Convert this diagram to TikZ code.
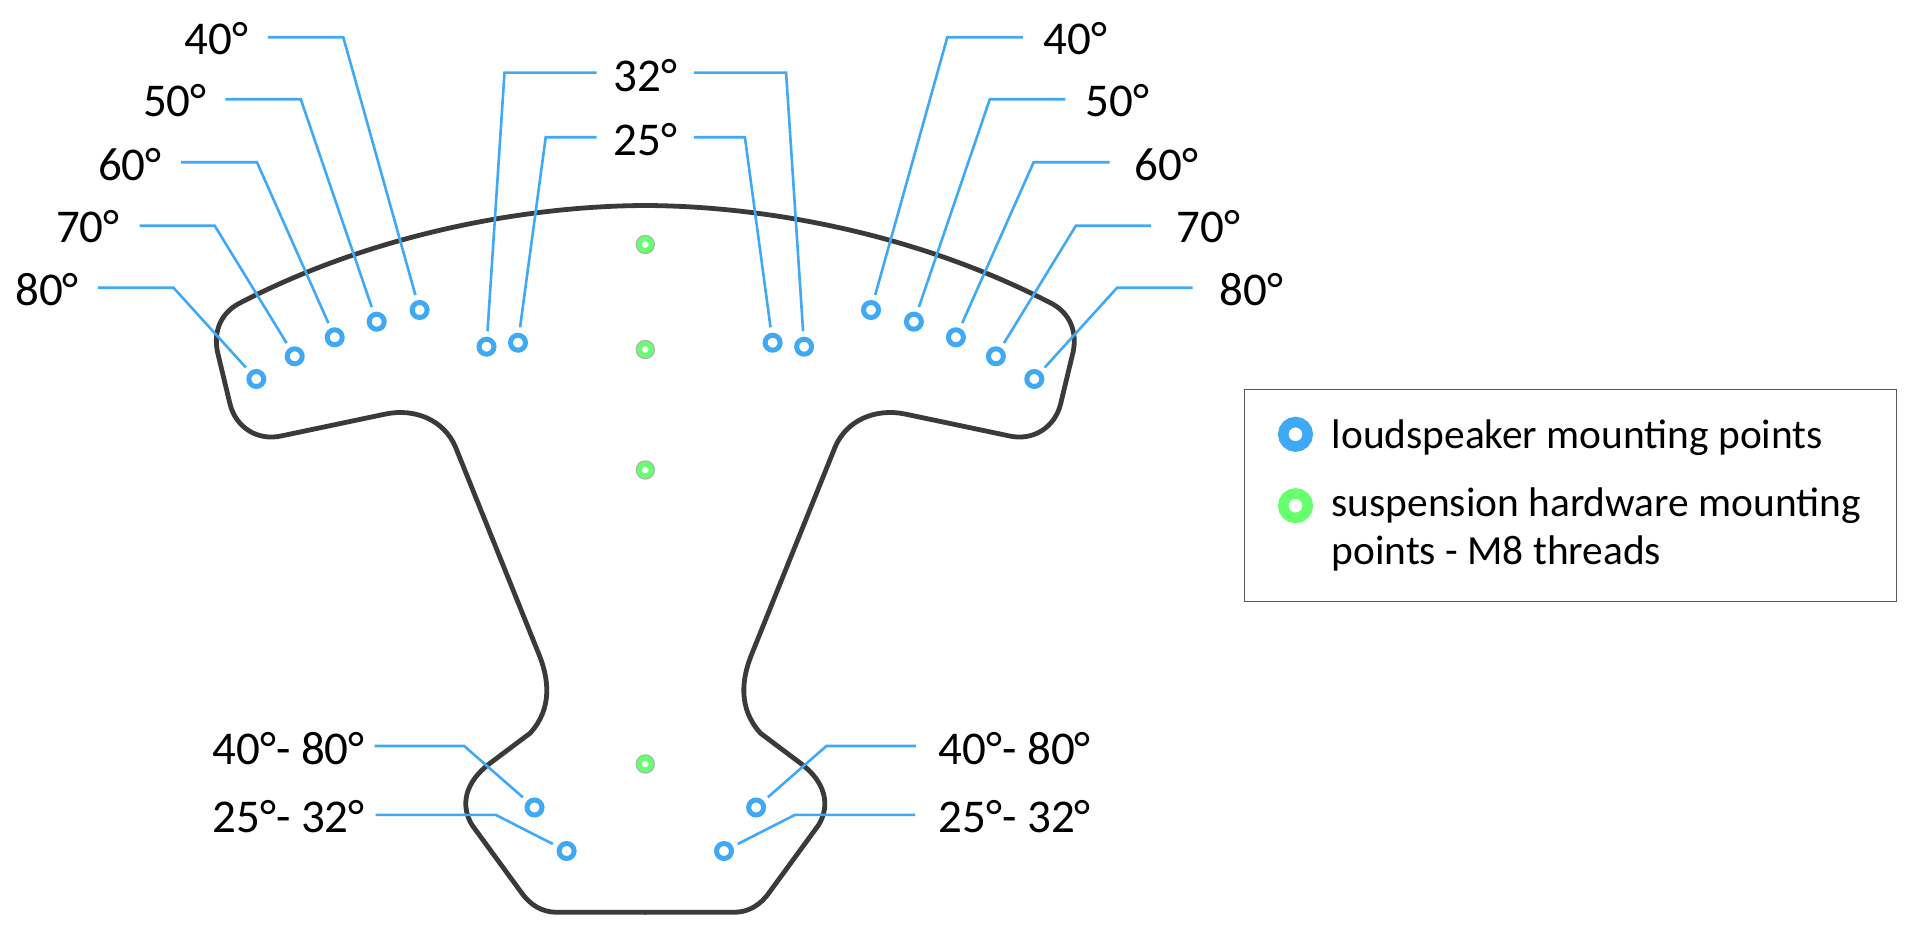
\documentclass[tikz,border=0pt]{standalone}
\usepackage{fontspec}
\setmainfont{Carlito}
\definecolor{lblue}{HTML}{3FA9F5}
\definecolor{lgreen}{HTML}{66FF6E}
\definecolor{outl}{HTML}{3A3A3A}
\tikzset{
  ring/.style={circle,draw=lblue,line width=5pt,minimum size=15pt,inner sep=0pt,outer sep=8pt},
  gring/.style={circle,preaction={draw=black!30,line width=7.6pt},draw=lgreen,line width=5pt,minimum size=11.7pt,inner sep=0pt,outer sep=0pt,fill=white},
  lead/.style={draw=lblue,line width=2.6pt,line join=miter},
  shape outline/.style={draw=outl,line width=4.8pt,line join=round,line cap=round},
  deg/.style={anchor=base west,inner sep=0pt,font=\fontsize{47}{47}\selectfont,text=black},
  legtxt/.style={anchor=base west,inner sep=0pt,font=\fontsize{41.4}{41.4}\selectfont,text=black},
  bigring/.style={circle,line width=10.5pt,minimum size=24.5pt,inner sep=0pt,outer sep=0pt},
}
\begin{document}
\begin{tikzpicture}[x=1pt,y=-1pt]
\useasboundingbox (0,0) rectangle (1920,931);
% body outline: left half and its mirror image
\def\halfoutline{(645.3,205.5) .. controls (520,206) and (368,236) .. (238,304)
  .. controls (222,313) and (213,330) .. (217.5,352) -- (230,404)
  .. controls (236,428) and (258,441) .. (281,436) -- (385.7,414)
  .. controls (415,408) and (444,420) .. (455.5,447) -- (538,652)
  .. controls (549,678) and (553,708) .. (530,733.3) -- (490,763.3)
  .. controls (465,782) and (460,805) .. (472,825) -- (521,892)
  .. controls (530,905) and (542,912.3) .. (557,912.3) -- (645.3,912.3)}
\draw[shape outline] \halfoutline;
\begin{scope}[shift={(1290.6,0)},xscale=-1]
\draw[shape outline] \halfoutline;
\end{scope}
% green points
\foreach \n/\y in {a/244.5,b/349.5,c/470,d/764}
  \node[gring] (g\n) at (645.3,\y) {};
% rings
\foreach \n/\x/\y in {80/256.3/379,70/294.7/356.3,60/334.7/337.3,50/376.7/321.7,40/419.6/310,32/486.5/346.7,25/518/342.7,h/534.5/807.5,l/566.6/851}{
  \node[ring] (L\n) at (\x,\y) {};
  \node[ring] (R\n) at ({1290.6-\x},\y) {};
}
% labels
\foreach \t/\xl/\xr/\y in {80/15/1219.5/305,70/55.8/1176.5/242.7,60/97.8/1134.5/180,50/142.8/1085.5/116.7,40/184.5/1043.3/55}{
  \node[deg] (tL\t) at (\xl,\y) {\t°};
  \node[deg] (tR\t) at (\xr,\y) {\t°};
}
\node[deg] (t32) at (613.5,91.7) {32°};
\node[deg] (t25) at (613.5,156) {25°};
\node[deg] (tLh) at (212.3,764) {40°- 80°};
\node[deg] (tRh) at (938.5,764) {40°- 80°};
\node[deg] (tLl) at (212.3,832.7) {25°- 32°};
\node[deg] (tRl) at (938.5,832.7) {25°- 32°};
% leaders
\foreach \n/\sx/\bx/\y in {80/98/173.5/287.7,70/139.6/214.7/225.7,60/181/257/162.3,50/225.3/300.8/99.3,40/267.8/343.3/37.3,32/596.7/504.5/72.7,25/596.7/545.7/137.3,h/374.7/464.2/746,l/375.5/495.6/814.8}{
  \coordinate (sL\n) at (\sx,\y);
  \coordinate (bL\n) at (\bx,\y);
  \coordinate (sR\n) at ({1290.6-\sx},\y);
  \coordinate (bR\n) at ({1290.6-\bx},\y);
  \draw[lead] (sL\n) -- (bL\n) -- (L\n);
  \draw[lead] (sR\n) -- (bR\n) -- (R\n);
}
% legend
\node[draw=black!65,line width=1.2pt,minimum width=652.3pt,minimum height=212pt,inner sep=0pt,anchor=north west] (legend) at (1243.7,389) {};
\node[bigring,draw=lblue] (kb) at (1295.5,434.3) {};
\node[bigring,draw=lgreen] (kg) at (1295.5,505.7) {};
\node[legtxt] (k1) at (1331.5,448.3) {loudspeaker mounting points};
\node[legtxt] (k2) at (1331.5,516.7) {suspension hardware mounting};
\node[legtxt] (k3) at (1331.5,564.3) {points - M8 threads};
\end{tikzpicture}
\end{document}
